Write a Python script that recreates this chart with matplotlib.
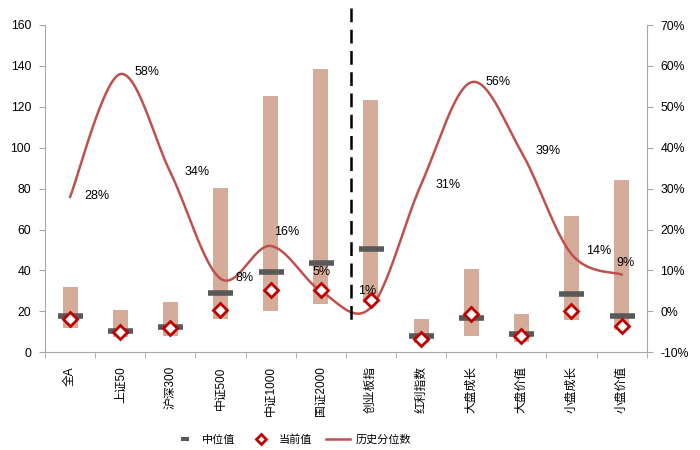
import numpy as np
import matplotlib
matplotlib.use("Agg")
import matplotlib.pyplot as plt
from matplotlib.lines import Line2D

plt.rcParams['font.family'] = ['Liberation Sans', 'Noto Sans CJK SC', 'DejaVu Sans']
plt.rcParams['axes.unicode_minus'] = False

categories = ['全A', '上证50', '沪深300', '中证500', '中证1000', '国证2000',
              '创业板指', '红利指数', '大盘成长', '大盘价值', '小盘成长', '小盘价值']
range_low = [11.7, 7.3, 8.1, 16.3, 20.2, 23.6, 24.0, 4.7, 8.0, 5.2, 15.8, 10.9]
range_high = [32.1, 20.7, 24.8, 80.2, 125.4, 138.4, 123.4, 16.1, 40.6, 18.6, 66.7, 84.2]
median_vals = [17.9, 10.4, 12.5, 28.9, 39.1, 43.8, 50.4, 8.1, 16.9, 9.0, 28.4, 17.8]
current_vals = [16.1, 9.8, 11.7, 20.7, 30.5, 30.5, 25.6, 6.5, 18.6, 8.0, 20.2, 12.9]
pct_vals = [28, 58, 34, 8, 16, 5, 1, 31, 56, 39, 14, 9]
left_ticks = [0, 20, 40, 60, 80, 100, 120, 140, 160]
right_ticks = [-10, 0, 10, 20, 30, 40, 50, 60, 70]

# label offsets in pixels (style)
label_offsets = [(27, 1), (27, 2), (27, 0), (24, 1), (16, 14), (1, 19),
                 (-4, 16), (27, 0), (27, 0), (27, 1), (27, 3), (4, 12)]

bar_color = '#D4AC99'
med_color = '#595959'
red = '#C00000'
line_color = '#C0504D'
spine_color = '#A6A6A6'

fig = plt.figure(figsize=(7, 4.5), dpi=100)
pos = [45 / 700, (450 - 352.3) / 450, (646.7 - 45) / 700, (352.3 - 25) / 450]
ax = fig.add_axes(pos)
x = np.arange(len(categories))

low = np.array(range_low)
high = np.array(range_high)
ax.bar(x, high - low, bottom=low, width=0.3, color=bar_color, zorder=1)
ax.set_ylim(0, 160)
ax.set_xlim(-0.5, len(categories) - 0.5)
ax.set_yticks(left_ticks)
ax.set_xticks(x)
ax.set_xticklabels(categories, rotation=90, fontsize=8.5)
ax.set_xticks(np.arange(len(categories) + 1) - 0.5, minor=True)
ax.tick_params(axis='x', which='major', length=0, pad=10)
ax.tick_params(axis='x', which='minor', length=4, color=spine_color)
ax.tick_params(axis='y', length=4, color=spine_color, labelsize=8.8, pad=6)
for s in ['top', 'right']:
    ax.spines[s].set_visible(False)
for s in ['left', 'bottom']:
    ax.spines[s].set_color(spine_color)

# line on secondary axis
ax2 = ax.twinx()
ax2.set_ylim(-10, 70)
ax2.set_yticks(right_ticks)
ax2.set_yticklabels([f'{t}%' for t in right_ticks])
ax2.tick_params(axis='y', length=4, color=spine_color, labelsize=8.8, pad=6)
for s in ['top', 'left', 'bottom']:
    ax2.spines[s].set_visible(False)
ax2.spines['right'].set_color(spine_color)

# Excel-like smoothed line (Bezier / Catmull-Rom)
P = np.column_stack([x, np.array(pct_vals, dtype=float)])
n = len(P)
xs, ys = [], []
t = np.linspace(0, 1, 30)
for i in range(n - 1):
    p0 = P[i - 1] if i > 0 else P[i]
    p1 = P[i]
    p2 = P[i + 1]
    p3 = P[i + 2] if i + 2 < n else P[i + 1]
    c1 = p1 + (p2 - p0) / 6
    c2 = p2 - (p3 - p1) / 6
    b = ((1 - t) ** 3)[:, None] * p1 + (3 * (1 - t) ** 2 * t)[:, None] * c1 + \
        (3 * (1 - t) * t ** 2)[:, None] * c2 + (t ** 3)[:, None] * p2
    xs.extend(b[:, 0])
    ys.extend(b[:, 1])
ax2.plot(xs, ys, color=line_color, lw=1.8, zorder=2)
for xi, pv, off in zip(x, pct_vals, label_offsets):
    ax2.annotate(f'{pv}%', (xi, pv), xytext=off, textcoords='offset pixels',
                 ha='center', va='center', fontsize=9, color='#000000')

# markers on top
ax3 = fig.add_axes(pos, sharex=ax, sharey=ax)
ax3.patch.set_visible(False)
ax3.axis('off')
ax3.plot(x, median_vals, linestyle='none', marker='_', markersize=18,
         markeredgewidth=4, color=med_color, zorder=3)
ax3.plot(x, current_vals, linestyle='none', marker='D', markersize=7,
         markerfacecolor='white', markeredgecolor=red, markeredgewidth=2, zorder=4)

# dashed separator
fig.add_artist(Line2D([351 / 700, 351 / 700], [(450 - 8) / 450, (450 - 325) / 450],
                      transform=fig.transFigure, color='black', lw=1.8,
                      linestyle=(0, (5.5, 3))))

handles = [
    Line2D([], [], linestyle='none', marker='_', markersize=6, markeredgewidth=3, color=med_color),
    Line2D([], [], linestyle='none', marker='D', markersize=5, markerfacecolor='white',
           markeredgecolor=red, markeredgewidth=2),
    Line2D([], [], color=line_color, lw=1.8),
]
fig.legend(handles, ['中位值', '当前值', '历史分位数'], loc='center',
           bbox_to_anchor=(0.417, (450 - 440) / 450), ncol=3, frameon=False,
           fontsize=8, handlelength=2.2, columnspacing=1.2, handletextpad=0.5)

fig.savefig('out.png', dpi=100)
